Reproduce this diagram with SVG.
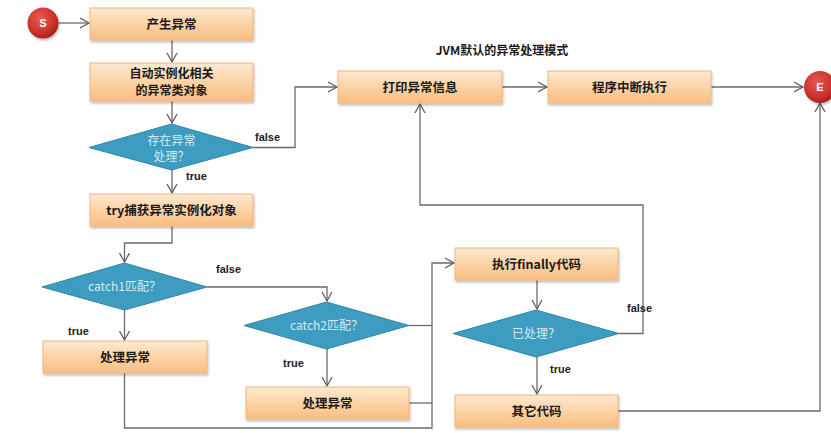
<svg xmlns="http://www.w3.org/2000/svg" width="831" height="433" viewBox="0 0 831 433">
<defs>
<linearGradient id="boxg" x1="0" y1="0" x2="0" y2="1">
<stop offset="0" stop-color="#fde9d3"/>
<stop offset="0.5" stop-color="#fcd3a6"/>
<stop offset="1" stop-color="#f9bd80"/>
</linearGradient>
<radialGradient id="redg" cx="0.4" cy="0.35" r="0.7">
<stop offset="0" stop-color="#e85a4e"/>
<stop offset="0.7" stop-color="#c8302a"/>
<stop offset="1" stop-color="#9e1c18"/>
</radialGradient>
<filter id="sh" x="-10%" y="-20%" width="120%" height="150%">
<feDropShadow dx="1" dy="2" stdDeviation="1.2" flood-color="#000" flood-opacity="0.25"/>
</filter>
<marker id="arr" markerUnits="userSpaceOnUse" markerWidth="12" markerHeight="12" refX="9" refY="5" orient="auto" viewBox="0 0 12 10">
<path d="M0,0 L9,5 L0,10" fill="none" stroke="#5f5f5f" stroke-width="1.3"/>
</marker>
</defs>
<style>
.box{fill:url(#boxg);stroke:#f3b47a;stroke-width:1;filter:url(#sh)}
.dia{fill:#3d9cbf;stroke:#2f86a8;stroke-width:1}
.bt{font-family:"Noto Sans CJK SC","Liberation Sans",sans-serif;font-weight:bold;font-size:12.5px;fill:#1a1a1a;text-anchor:middle}
.dt{font-family:"Noto Sans CJK SC","Liberation Sans",sans-serif;font-size:12px;fill:#d4ecf4;text-anchor:middle}
.lb{font-family:"Liberation Sans",sans-serif;font-weight:bold;font-size:11px;fill:#222}
.ln{fill:none;stroke:#6a6a6a;stroke-width:1.3}
.circ{fill:url(#redg);filter:url(#sh)}
.ct{font-family:"Liberation Sans",sans-serif;font-weight:bold;font-size:11px;fill:#fff;text-anchor:middle}
</style>
<rect width="831" height="433" fill="#fff"/>

<g id="connectors">
<path class="ln" d="M58.5,23 H89" marker-end="url(#arr)"/>
<path class="ln" d="M172,40 V62" marker-end="url(#arr)"/>
<path class="ln" d="M172,101 V123" marker-end="url(#arr)"/>
<path class="ln" d="M172,170 V193" marker-end="url(#arr)"/>
<path class="ln" d="M253,147.5 H295 V87 H337" marker-end="url(#arr)"/>
<path class="ln" d="M172,226 V243 H124.5 V262" marker-end="url(#arr)"/>
<path class="ln" d="M124.5,310 V340" marker-end="url(#arr)"/>
<path class="ln" d="M207,287 H327 V301" marker-end="url(#arr)"/>
<path class="ln" d="M327,349 V386" marker-end="url(#arr)"/>
<path class="ln" d="M124.5,373 V428 H432 V263 H454" marker-end="url(#arr)"/>
<path class="ln" d="M409,325.5 H432"/>
<path class="ln" d="M409,403 H432"/>
<path class="ln" d="M537,280 V309" marker-end="url(#arr)"/>
<path class="ln" d="M537,357 V394" marker-end="url(#arr)"/>
<path class="ln" d="M619,333.5 H643 V205 H420 V104" marker-end="url(#arr)"/>
<path class="ln" d="M502,87 H547" marker-end="url(#arr)"/>
<path class="ln" d="M711,87 H803" marker-end="url(#arr)"/>
<path class="ln" d="M618,411 H820 V103" marker-end="url(#arr)"/>
</g>

<g id="start">
<circle class="circ" cx="43" cy="23" r="15.5"/>
<text class="ct" x="43" y="27">S</text>
</g>
<g id="end">
<circle class="circ" cx="820" cy="87" r="16"/>
<text class="ct" x="820" y="91">E</text>
</g>

<g id="title">
<text class="bt" x="502" y="55" style="font-size:12px">JVM默认的异常处理模式</text>
</g>

<g id="n1">
<rect class="box" x="90" y="8" width="163" height="32"/>
<text class="bt" x="171.5" y="28.5">产生异常</text>
</g>
<g id="n2">
<rect class="box" x="90" y="63" width="163" height="38"/>
<text class="bt" x="171.5" y="78" style="font-size:12px">自动实例化相关</text>
<text class="bt" x="171.5" y="95" style="font-size:12px">的异常类对象</text>
</g>
<g id="d1">
<polygon class="dia" points="89,147.5 171.5,124 253,147.5 171.5,170"/>
<text class="dt" x="171.5" y="145">存在异常</text>
<text class="dt" x="171.5" y="161">处理？</text>
</g>
<g id="n3">
<rect class="box" x="90" y="194" width="163" height="32"/>
<text class="bt" x="171.5" y="214.5">try捕获异常实例化对象</text>
</g>
<g id="d2">
<polygon class="dia" points="42,287 124.5,263 207,287 124.5,310"/>
<text class="dt" x="124.5" y="291">catch1匹配？</text>
</g>
<g id="n4">
<rect class="box" x="43" y="341" width="164" height="32"/>
<text class="bt" x="125" y="361.5">处理异常</text>
</g>
<g id="d3">
<polygon class="dia" points="244,325.5 326.5,302 409,325.5 326.5,349"/>
<text class="dt" x="326.5" y="329.5">catch2匹配？</text>
</g>
<g id="n5">
<rect class="box" x="246" y="387" width="163" height="32"/>
<text class="bt" x="327.5" y="407.5">处理异常</text>
</g>
<g id="n6">
<rect class="box" x="455" y="248" width="163" height="32"/>
<text class="bt" x="536.5" y="268.5">执行finally代码</text>
</g>
<g id="d4">
<polygon class="dia" points="453,333.5 536,310 619,333.5 536,357"/>
<text class="dt" x="536" y="337.5">已处理？</text>
</g>
<g id="n7">
<rect class="box" x="455" y="395" width="163" height="32"/>
<text class="bt" x="536.5" y="415.5">其它代码</text>
</g>
<g id="n8">
<rect class="box" x="338" y="71" width="164" height="32"/>
<text class="bt" x="420" y="91.5">打印异常信息</text>
</g>
<g id="n9">
<rect class="box" x="548" y="71" width="163" height="32"/>
<text class="bt" x="629.5" y="91.5">程序中断执行</text>
</g>

<g id="labels">
<text class="lb" x="255" y="141">false</text>
<text class="lb" x="186" y="180">true</text>
<text class="lb" x="216" y="273">false</text>
<text class="lb" x="68" y="335">true</text>
<text class="lb" x="283" y="367">true</text>
<text class="lb" x="627" y="312">false</text>
<text class="lb" x="550" y="373">true</text>
</g>
</svg>
